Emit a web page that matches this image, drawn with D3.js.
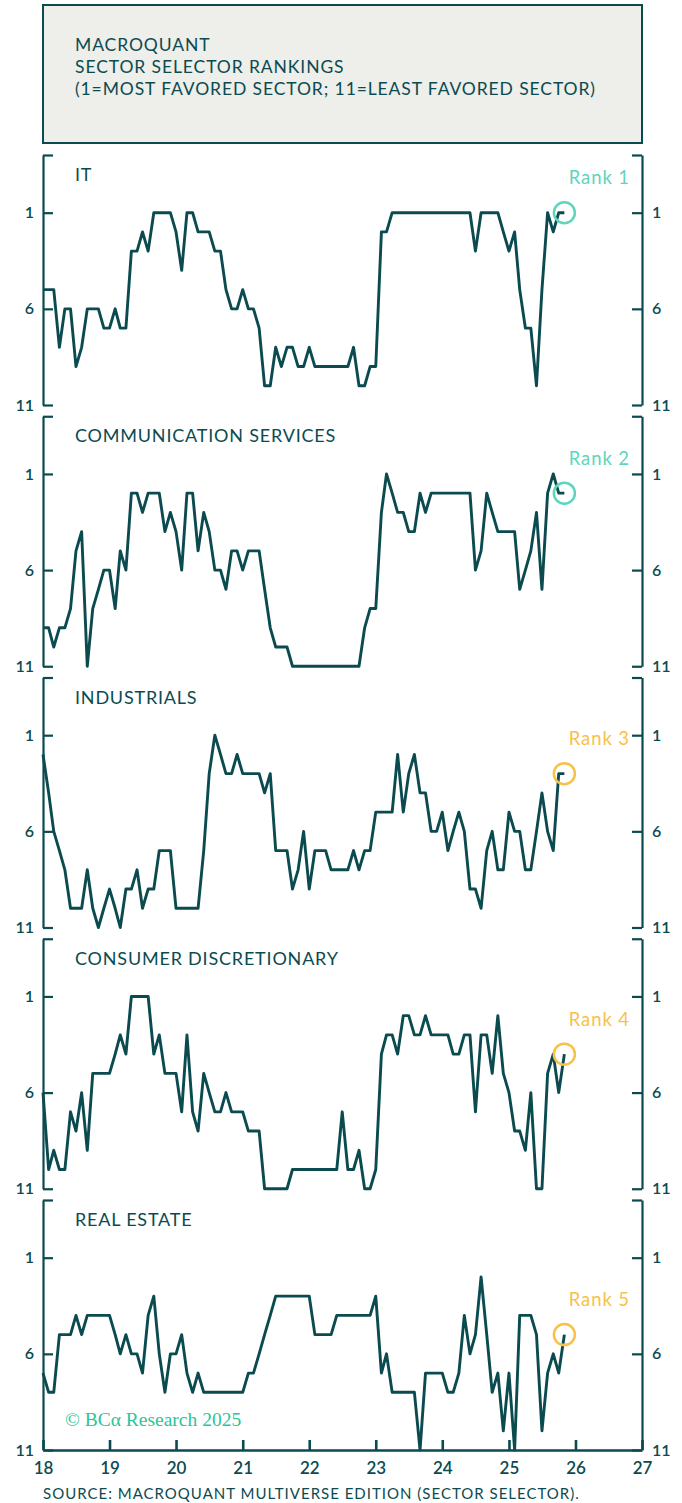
<!DOCTYPE html>
<html>
<head>
<meta charset="utf-8">
<script src="https://cdn.jsdelivr.net/npm/d3@7"></script>
<style>
  body{margin:0;background:#fff;}
  svg text{font-family:Lato,"Open Sans",sans-serif;}
</style>
</head>
<body>
<svg id="chart" width="682" height="1503"></svg>
<script>
// monthly ranks, Jan 2018 .. Nov 2025
const sectors=["IT","COMMUNICATION SERVICES","INDUSTRIALS","CONSUMER DISCRETIONARY","REAL ESTATE"]
const it=[5,5,5,8,6,6,9,8,6,6, 6,7,7,6,7,7,3,3,2,3, 1,1,1,1,2,4,1,1,2,2, 2,3,3,5,6,6,5,6,6,7,
  10,10,8,9,8,8,9,9,8,9, 9,9,9,9,9,9,8,10,10,9, 9,2,2,1,1,1,1,1,1,1, 1,1,1,1,1,1,1,1,3,1,
  1,1,1,2,3,2,5,7,7,10, 5,1,2,1,1]
const comm=[9,9,10,9,9,8,5,4,11,8, 7,6,6,8,5,6,2,2,3,2, 2,2,4,3,4,6,2,2,5,3, 4,6,6,7,5,5,6,5,5,5,
  7,9,10,10,10,11,11,11,11,11, 11,11,11,11,11,11,11,11,9,8, 8,3,1,2,3,3,4,4,2,3, 2,2,2,2,2,2,2,2,6,5,
  2,3,4,4,4,4,7,6,5,3, 7,2,1,2,2]
const industrials=[2,4,6,7,8,10,10,10,8,10, 11,10,9,10,11,9,9,8,10,9, 9,7,7,7,10,10,10,10,10,7, 3,1,2,3,3,2,3,3,3,3,
  4,3,7,7,7,9,8,6,9,7, 7,7,8,8,8,8,7,8,7,7, 5,5,5,5,2,5,3,2,4,4, 6,6,5,7,6,5,6,9,9,10,
  7,6,8,8,5,6,6,8,8,6, 4,6,7,3,3]
const consumer=[6,10,9,10,10,7,8,6,9,5, 5,5,5,4,3,4,1,1,1,1, 4,3,5,5,5,7,3,7,8,5, 6,7,7,6,7,7,7,8,8,8,
  11,11,11,11,11,10,10,10,10,10, 10,10,10,10,7,10,10,9,11,11, 10,4,3,3,4,2,2,3,3,2, 3,3,3,3,4,4,3,3,7,3,
  3,5,2,5,6,8,8,9,6,11, 11,5,4,6,4]
const realEstate=[7,8,8,5,5,5,4,5,4,4, 4,4,4,5,6,5,6,6,7,4, 3,6,8,6,6,5,7,8,7,8, 8,8,8,8,8,8,8,7,7,6,
  5,4,3,3,3,3,3,3,3,5, 5,5,5,4,4,4,4,4,4,4, 3,7,6,8,8,8,8,8,11,7, 7,7,7,8,8,7,4,6,5,2,
  5,8,7,10,7,11,4,4,4,5, 10,7,6,7,5]
const series=[it,comm,industrials,consumer,realEstate]
const months=d3.timeMonth.range(new Date(2018,0,1), new Date(2025,11,1))
const yearTicks=[2018,2019,2020,2021,2022,2023,2024,2025,2026,2027]
const yearLabels=["18","19","20","21","22","23","24","25","26","27"]
const rankTicks=[-2,1,6,11]

const teal="#0b4b50", mint="#5dd6bd", amber="#f8c24a"
const svg=d3.select("#chart")

// title box
svg.append("rect").attr("x",43).attr("y",5).attr("width",599).attr("height",138)
  .attr("fill","#eeeeea").attr("stroke",teal).attr("stroke-width",2)
const title=["MACROQUANT","SECTOR SELECTOR RANKINGS","(1=MOST FAVORED SECTOR; 11=LEAST FAVORED SECTOR)"]
svg.append("g").selectAll("text").data(title).join("text")
  .attr("x",75).attr("y",(d,i)=>51+i*22)
  .attr("fill",teal).attr("font-size",17.5).attr("letter-spacing",0.9).text(d=>d)

const x=d3.scaleTime().domain([new Date(2018,0,1),new Date(2027,0,1)]).range([43,642])
const fmt=d=>d===-2?"":d

series.forEach((vals,i)=>{
  const top=155+261.25*i, bot=top+250
  const y=d3.scaleLinear().domain([-2,11]).range([top,bot])
  const g=svg.append("g")

  const left=g.append("g").attr("transform","translate(43,0)")
    .call(d3.axisLeft(y).tickValues(rankTicks).tickFormat(fmt).tickSize(-10).tickSizeOuter(0).tickPadding(9))
  const right=g.append("g").attr("transform","translate(642,0)")
    .call(d3.axisRight(y).tickValues(rankTicks).tickFormat(fmt).tickSize(-10).tickSizeOuter(0).tickPadding(10))
  ;[left,right].forEach(a=>{
    a.selectAll("path,line").attr("stroke",teal).attr("stroke-width",2.2)
    a.selectAll("text").attr("fill",teal).attr("font-size",16).attr("font-weight",600)
      .style("font-family","Lato, sans-serif")
  })

  g.append("text").attr("x",75).attr("y",top+26).attr("fill",teal)
    .attr("font-size",18).attr("letter-spacing",0.8).text(sectors[i])

  g.append("path").datum(vals)
    .attr("fill","none").attr("stroke",teal).attr("stroke-width",2.9).attr("stroke-linejoin","round")
    .attr("d",d3.line().x((d,j)=>x(months[j])).y(d=>y(d)))

  const last=vals[vals.length-1], col=last<=2?mint:amber
  const cx=x(months[months.length-1]), cy=y(last)
  g.append("circle").attr("cx",cx).attr("cy",cy).attr("r",10.5)
    .attr("fill","none").attr("stroke",col).attr("stroke-width",2.5)
  g.append("text").attr("x",630).attr("y",cy-28.5).attr("text-anchor","end")
    .attr("fill",col).attr("font-size",18.5).attr("letter-spacing",0.9).text("Rank "+last)

  if(i===series.length-1){
    const xa=g.append("g").attr("transform",`translate(0,${bot})`)
      .call(d3.axisBottom(x).tickValues(yearTicks.map(yr=>new Date(yr,0,1)))
        .tickFormat((d,k)=>yearLabels[k]).tickSize(-10).tickSizeOuter(0).tickPadding(12))
    xa.selectAll("path,line").attr("stroke",teal).attr("stroke-width",2.6)
    xa.selectAll("text").attr("fill",teal).attr("font-size",17).attr("font-weight",600)
  }
})

svg.append("text").attr("x",65).attr("y",1426).attr("fill","#2bc59b")
  .style("font-family","'Liberation Serif','DejaVu Serif',serif").attr("font-size",19.5)
  .text("© BCα Research 2025")
svg.append("text").attr("x",43).attr("y",1499).attr("fill",teal).attr("font-size",15)
  .attr("letter-spacing",1).text("SOURCE: MACROQUANT MULTIVERSE EDITION (SECTOR SELECTOR).")
</script>
</body>
</html>
